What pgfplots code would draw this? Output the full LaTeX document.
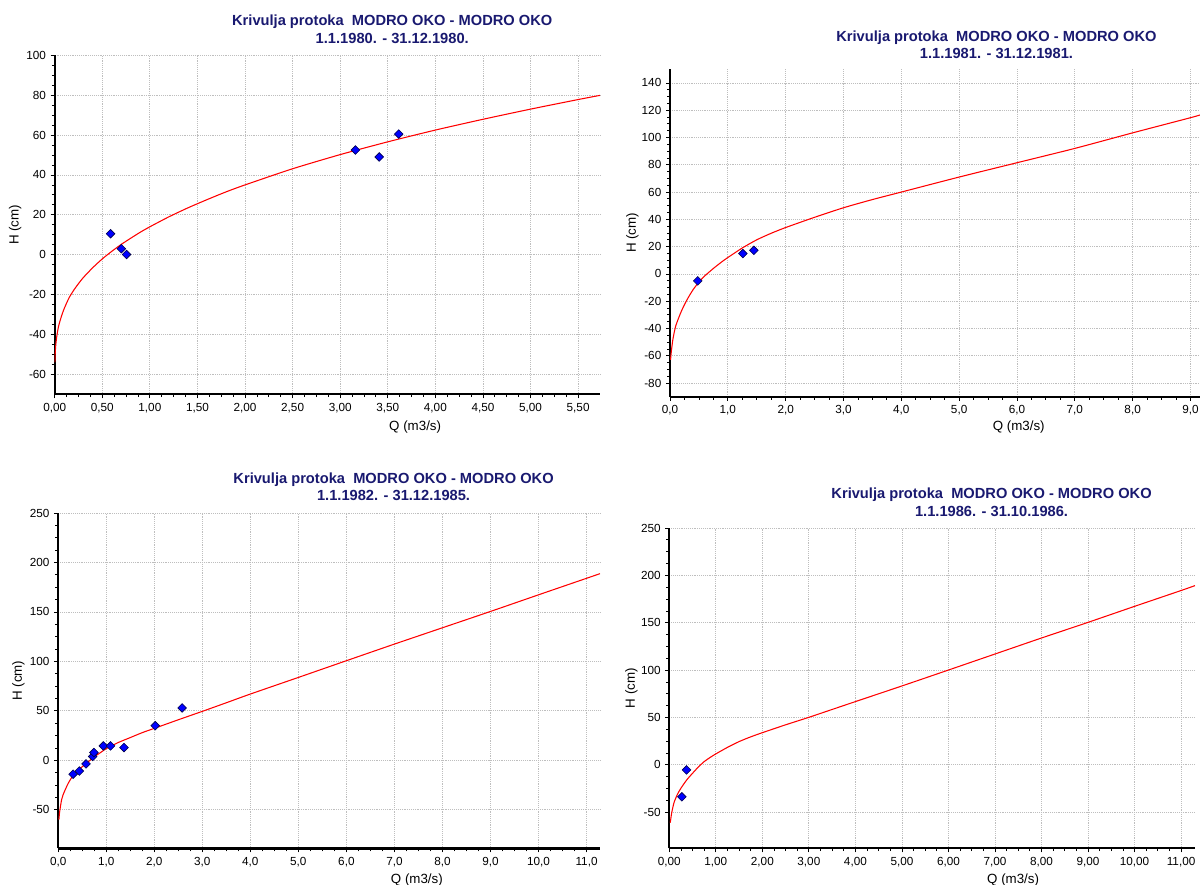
\documentclass[border=0pt]{standalone}
\usepackage{fontspec}
\setmainfont{Liberation Sans}
\usepackage{pgfplots}
\pgfplotsset{compat=1.18}
\definecolor{titleblue}{RGB}{25,25,112}
\definecolor{gridgray}{RGB}{190,190,190}
\definecolor{markblue}{RGB}{0,0,255}
\pgfplotsset{
  panel/.style={
    scale only axis,
    axis lines*=left,
    axis line style={line width=1.7pt, black, -},
    tick pos=left,
    tick align=outside,
    major tick length=3pt, minor tick length=2.2pt,
    tick style={black, line width=0.6pt},
    minor x tick num=3, minor y tick num=3,
    grid=major,
    major grid style={gridgray, densely dotted, line width=0.6pt},
    ticklabel style={font=\fontsize{8.8}{10}\selectfont},
    label style={font=\fontsize{8.8}{10}\selectfont},
    /pgf/number format/assume math mode=true,
    /pgf/number format/use comma,
    every axis title/.style={anchor=center, align=center, text=titleblue, font=\fontsize{11}{13.1}\selectfont\bfseries},
    xlabel={Q (m3/s)}, ylabel={H (cm)},
    anchor=south west,
  },
  curve/.style={red, line width=0.8pt, no marks, smooth, tension=0.4},
  pts/.style={only marks, mark=square*, mark size=2.3pt, mark options={rotate=45, fill=markblue, draw=black!70!blue, line width=0.45pt}},
}
\begin{document}
\begin{tikzpicture}
\useasboundingbox (0,0) rectangle (900pt,663.75pt);
% Panel 1
\begin{axis}[panel, at={(41.03pt,368.03pt)}, width=408.98pt, height=254.25pt,
  xmin=0, xmax=5.73, ymin=-70, ymax=100,
  xtick={0,0.5,...,5.5}, ytick={-60,-40,...,100},
  xticklabel style={/pgf/number format/.cd, fixed, fixed zerofill, precision=2},
  title={Krivulja protoka\ \ MODRO OKO - MODRO OKO\\1.1.1980. - 31.12.1980.},
  title style={at={(0.619,1.0767)}},
  every axis x label/.style={at={(axis description cs:0.661,-0.0956)}, anchor=center},
  every axis y label/.style={at={(axis description cs:-0.0723,0.5)}, anchor=center, rotate=90},
]
\addplot[curve] coordinates {(0.002,-54) (0.005,-50) (0.01,-46) (0.02,-41.5) (0.04,-36) (0.07,-31) (0.1,-27) (0.15,-21.7) (0.2,-17.8) (0.25,-14.5) (0.3,-11.5) (0.4,-6.5) (0.5,-2.1) (0.6,1.7) (0.7,5.2) (0.8,8.3) (0.9,11.3) (1.0,14) (1.2,19) (1.4,23.5) (1.6,27.6) (1.8,31.5) (2.0,35) (2.5,43.1) (3.0,50.2) (3.5,56.6) (4.0,62.5) (4.5,67.9) (5.0,73) (5.5,77.8) (5.73,79.9)};
\addplot[pts] coordinates {(0.587,10.5) (0.70,3.0) (0.755,0.1) (3.16,52.5) (3.41,49) (3.615,60.5)};
\end{axis}
% Panel 2
\begin{axis}[panel, at={(502.5pt,366.23pt)}, width=397.5pt, height=245.55pt,
  xmin=0, xmax=9.165, ymin=-90, ymax=150,
  xtick={0,1,...,9}, ytick={-80,-60,...,140},
  xticklabel style={/pgf/number format/.cd, fixed, fixed zerofill, precision=1},
  title={Krivulja protoka\ \ MODRO OKO - MODRO OKO\\1.1.1981. - 31.12.1981.},
  title style={at={(0.616,1.0751)}},
  every axis x label/.style={at={(axis description cs:0.658,-0.0935)}, anchor=center},
  every axis y label/.style={at={(axis description cs:-0.0708,0.5)}, anchor=center, rotate=90},
]
\addplot[curve] coordinates {(0.01,-63) (0.02,-58) (0.05,-48) (0.1,-38) (0.2,-27) (0.3,-18.5) (0.4,-11.5) (0.5,-6) (0.6,-1.5) (0.75,4) (0.9,9) (1.0,12) (1.25,19) (1.5,25) (1.75,29.8) (2.0,34) (2.5,41.5) (3.0,48.5) (3.5,54.5) (4.0,60) (5.0,71) (6.0,81.5) (7.0,92) (8.0,103.4) (9.0,114.5) (9.165,116.5)};
\addplot[pts] coordinates {(0.48,-5.1) (1.26,14.9) (1.45,17.3)};
\end{axis}
% Panel 3
\begin{axis}[panel, at={(43.65pt,27.45pt)}, width=406.35pt, height=251.55pt,
  xmin=0, xmax=11.28, ymin=-89, ymax=250,
  xtick={0,1,...,11}, ytick={-50,0,...,250},
  xticklabel style={/pgf/number format/.cd, fixed, fixed zerofill, precision=1},
  title={Krivulja protoka\ \ MODRO OKO - MODRO OKO\\1.1.1982. - 31.12.1985.},
  title style={at={(0.619,1.0775)}},
  every axis x label/.style={at={(axis description cs:0.662,-0.0945)}, anchor=center},
  every axis y label/.style={at={(axis description cs:-0.0735,0.5)}, anchor=center, rotate=90},
]
\addplot[curve] coordinates {(0.015,-60) (0.03,-52) (0.07,-40) (0.1,-35) (0.2,-24) (0.3,-16) (0.4,-10.5) (0.5,-6.5) (0.6,-2.5) (0.75,3.5) (0.9,8.5) (1.0,11.8) (1.25,18) (1.5,23) (1.75,28) (2.0,32.3) (2.5,41) (3.0,49.5) (3.5,58.2) (4.0,67) (5.0,83.8) (6.0,100.7) (7.0,117.5) (8.0,134) (9.0,150.5) (10.0,167.3) (11.0,184) (11.28,188.7)};
\addplot[pts] coordinates {(0.31,-14) (0.44,-10.8) (0.58,-3.6) (0.718,3.9) (0.745,7.9) (0.94,14.6) (1.09,14.6) (1.37,12.9) (2.02,35) (2.58,53)};
\end{axis}
% Panel 4
\begin{axis}[panel, at={(501.98pt,27.53pt)}, width=394.28pt, height=240.23pt,
  xmin=0, xmax=11.3, ymin=-88, ymax=250,
  xtick={0,1,...,11}, ytick={-50,0,...,250},
  xticklabel style={/pgf/number format/.cd, fixed, fixed zerofill, precision=2},
  title={Krivulja protoka\ \ MODRO OKO - MODRO OKO\\1.1.1986. - 31.10.1986.},
  title style={at={(0.613,1.0796)}},
  every axis x label/.style={at={(axis description cs:0.654,-0.099)}, anchor=center},
  every axis y label/.style={at={(axis description cs:-0.0721,0.5)}, anchor=center, rotate=90},
]
\addplot[curve] coordinates {(0.02,-61) (0.05,-51) (0.1,-40) (0.175,-31) (0.25,-24.6) (0.375,-15.8) (0.5,-8.8) (0.625,-2.2) (0.75,3.5) (0.875,7.8) (1.0,11.6) (1.25,18.5) (1.5,24.6) (1.75,29.6) (2.0,34) (2.5,42.3) (3.0,50.2) (3.5,58.5) (4.0,66.8) (5.0,83.3) (6.0,100.1) (7.0,117) (8.0,133.9) (9.0,150.4) (10.0,167.3) (11.0,184) (11.3,189.2)};
\addplot[pts] coordinates {(0.37,-5.3) (0.27,-33.7)};
\end{axis}
\end{tikzpicture}
\end{document}
